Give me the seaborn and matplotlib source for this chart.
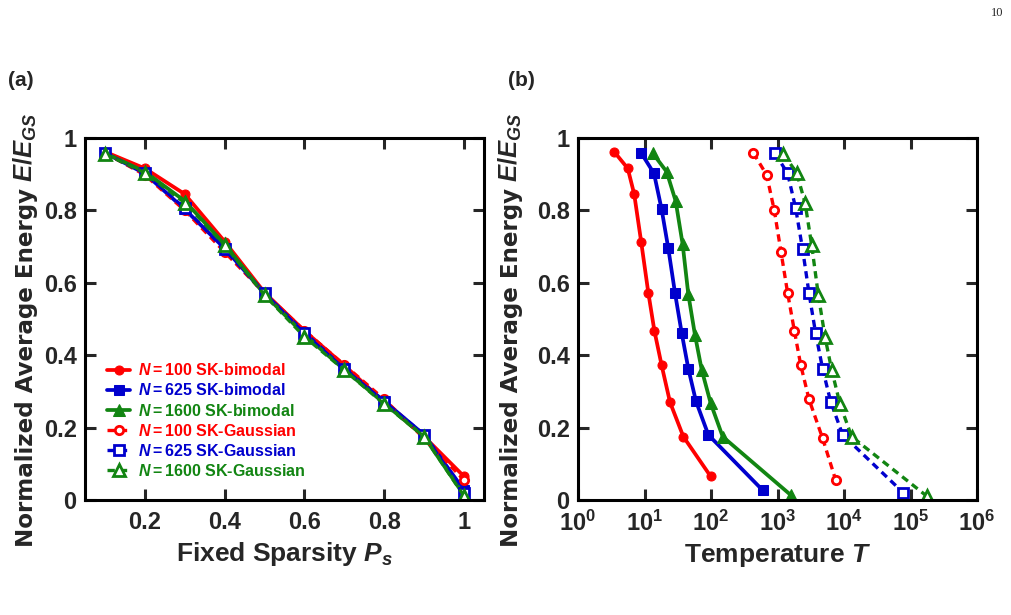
import numpy as np
import pandas as pd
import seaborn as sns
import matplotlib
matplotlib.use("Agg")
import matplotlib.pyplot as plt
from matplotlib.ticker import FixedLocator, FuncFormatter, NullLocator

# datos
sparsity = [0.1, 0.2, 0.3, 0.4, 0.5, 0.6, 0.7, 0.8, 0.9, 1.0]

e_100_bim = [0.962, 0.916, 0.845, 0.714, 0.573, 0.467, 0.372, 0.270, 0.175, 0.065]
e_625_bim = [0.959, 0.902, 0.803, 0.695, 0.571, 0.462, 0.363, 0.273, 0.180, 0.027]
e_1600_bim = [0.958, 0.907, 0.826, 0.706, 0.568, 0.456, 0.360, 0.267, 0.175, 0.013]
e_100_gau = [0.959, 0.898, 0.800, 0.685, 0.571, 0.468, 0.373, 0.278, 0.170, 0.055]
e_625_gau = [0.958, 0.902, 0.806, 0.692, 0.571, 0.460, 0.362, 0.272, 0.180, 0.020]
e_1600_gau = [0.956, 0.904, 0.821, 0.704, 0.566, 0.451, 0.359, 0.265, 0.175, 0.011]

# temperaturas (panel b)
t_100_bim = [3.5, 5.6, 7.0, 8.9, 11.4, 14.1, 18.1, 24.2, 38.4, 99]
t_625_bim = [8.9, 13.9, 18.1, 22.8, 28.8, 36.2, 45.6, 59.4, 91.2, 598]
t_1600_bim = [13.3, 21.5, 29.4, 37.5, 45.6, 57.4, 72.4, 99, 150, 1600]
t_100_gau = [432, 687, 895, 1130, 1422, 1791, 2234, 2979, 4775, 7500]
t_625_gau = [916, 1422, 1875, 2388, 2979, 3750, 4775, 6295, 9550, 78000]
t_1600_gau = [1225, 1941, 2594, 3266, 4111, 5176, 6531, 8710, 13030, 175000]

labels = [r"$N=$100 SK-bimodal", r"$N=$625 SK-bimodal", r"$N=$1600 SK-bimodal",
          r"$N=$100 SK-Gaussian", r"$N=$625 SK-Gaussian", r"$N=$1600 SK-Gaussian"]

rojo, azul, verde = "#ff0000", "#0000cd", "#128512"

sns.set_style("ticks")
plt.rcParams["font.family"] = ["Liberation Sans", "DejaVu Sans"]
plt.rcParams["font.weight"] = "bold"
plt.rcParams["mathtext.fontset"] = "custom"
plt.rcParams["mathtext.rm"] = "Liberation Sans:bold"
plt.rcParams["mathtext.bf"] = "Liberation Sans:bold"
plt.rcParams["mathtext.it"] = "Liberation Sans:bold:italic"

fig = plt.figure(figsize=(10.11, 6.15), dpi=100)
W, H = 1011, 615
ax1 = fig.add_axes([85 / W, 1 - 500 / H, 399 / W, 362 / H])
ax2 = fig.add_axes([578 / W, 1 - 500 / H, 399 / W, 362 / H])
ax2.set_xscale("log")

solido = dict(linestyle="-", linewidth=2.7)
guion = dict(linestyle=(0, (2.2, 1.5)), linewidth=2.4)

estilos = [
    (rojo, "o", solido, dict(markersize=6.5, markerfacecolor=rojo, markeredgecolor=rojo)),
    (azul, "s", solido, dict(markersize=7.5, markerfacecolor=azul, markeredgecolor=azul)),
    (verde, "^", solido, dict(markersize=8.5, markerfacecolor=verde, markeredgecolor=verde)),
    (rojo, "o", guion, dict(markersize=6, markerfacecolor="white", markeredgecolor=rojo, markeredgewidth=2)),
    (azul, "s", guion, dict(markersize=7.5, markerfacecolor="white", markeredgecolor=azul, markeredgewidth=2)),
    (verde, "^", guion, dict(markersize=8, markerfacecolor="white", markeredgecolor=verde, markeredgewidth=2)),
]

energias = [e_100_bim, e_625_bim, e_1600_bim, e_100_gau, e_625_gau, e_1600_gau]
temps = [t_100_bim, t_625_bim, t_1600_bim, t_100_gau, t_625_gau, t_1600_gau]

# panel (a)
for e, lab, (c, m, ls, mk) in zip(energias, labels, estilos):
    sns.lineplot(x=sparsity, y=e, ax=ax1, color=c, marker=m, label=lab, **ls, **mk)

# panel (b)
for t, e, (c, m, ls, mk) in zip(temps, energias, estilos):
    sns.lineplot(x=t, y=e, ax=ax2, color=c, marker=m, **ls, **mk)

for ax in (ax1, ax2):
    ax.set_ylim(0, 1)
    ax.yaxis.set_major_locator(FixedLocator([0, 0.2, 0.4, 0.6, 0.8, 1.0]))
    ax.yaxis.set_major_formatter(FuncFormatter(lambda v, p: f"{v:g}"))
    for s in ax.spines.values():
        s.set_visible(True)
        s.set_linewidth(2.2)
        s.set_color("black")
    ax.tick_params(which="major", direction="in", length=8, width=2.2,
                   top=True, right=True, labelsize=17, pad=6)
    ax.tick_params(axis="x", pad=8)
    for t in ax.get_xticklabels() + ax.get_yticklabels():
        t.set_fontweight("bold")

ax1.set_xlim(0.05, 1.05)
ax1.xaxis.set_major_locator(FixedLocator([0.2, 0.4, 0.6, 0.8, 1.0]))
ax1.xaxis.set_major_formatter(FuncFormatter(lambda v, p: f"{v:g}"))
ax1.set_xlabel(r"Fixed Sparsity $P_s$", fontsize=19, fontweight="bold", labelpad=4)

ax2.set_xlim(1, 1e6)
ax2.xaxis.set_major_locator(FixedLocator([10.0 ** k for k in range(7)]))
ax2.xaxis.set_minor_locator(NullLocator())
ax2.xaxis.set_major_formatter(FuncFormatter(lambda v, p: r"$10^{%d}$" % round(np.log10(v))))
ax2.set_xlabel(r"Temperature $T$", fontsize=19, fontweight="bold", labelpad=4)

leg = ax1.legend(loc="lower left", bbox_to_anchor=(0.028, 0.027), frameon=False,
                 fontsize=11.5, handlelength=1.4, handletextpad=0.55,
                 labelspacing=0.26, labelcolor="linecolor", borderaxespad=0.3)
for t in leg.get_texts():
    t.set_fontweight("bold")

# etiquetas del eje y (texto + E/E_GS mas grande)
fig.canvas.draw()
rend = fig.canvas.get_renderer()
for xb in (33, 518):
    t1 = fig.text(xb / W, 1 - 547 / H, "Normalized Average Energy", rotation=90,
                  rotation_mode="anchor", ha="left", va="baseline",
                  fontfamily="DejaVu Sans", fontweight="bold", fontsize=16.6)
    bb = t1.get_window_extent(rend)
    fig.text(xb / W, (bb.y1 + 6) / H, r"$E/E_{GS}$", rotation=90,
             rotation_mode="anchor", ha="left", va="baseline", fontsize=18.5)

fig.text(8 / W, 1 - 80 / H, "(a)", fontsize=15, fontweight="bold", va="center")
fig.text(508 / W, 1 - 80 / H, "(b)", fontsize=15, fontweight="bold", va="center")
fig.text(1003 / W, 1 - 13 / H, "10", fontsize=9, fontweight="normal",
         fontfamily="Liberation Serif", ha="right", va="center")

plt.savefig("out.png", dpi=100)
